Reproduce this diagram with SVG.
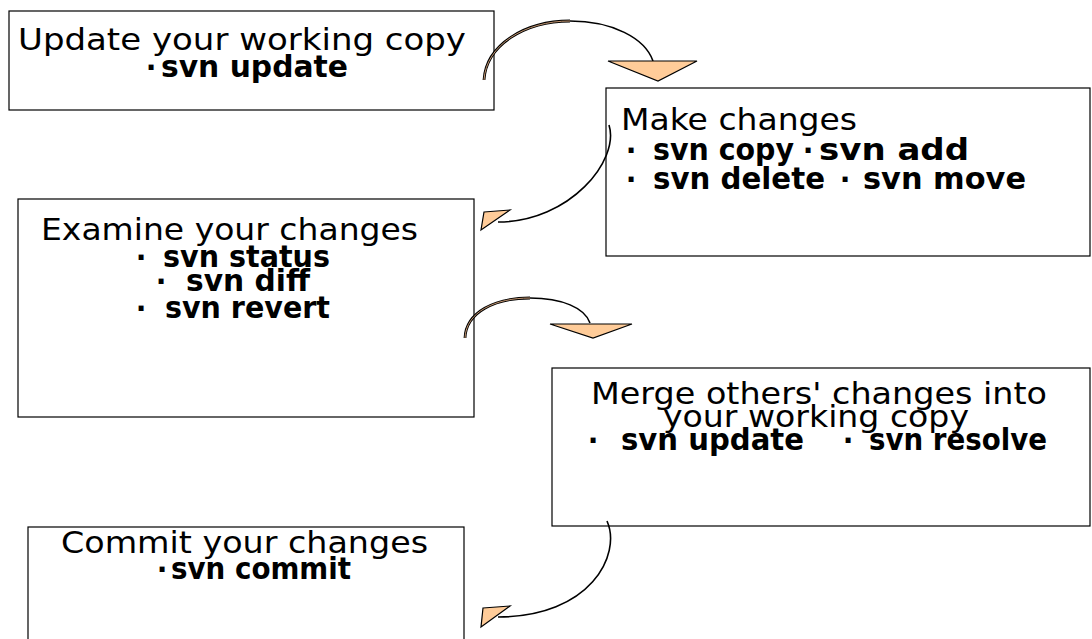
<svg xmlns="http://www.w3.org/2000/svg" width="1092" height="639" viewBox="0 0 1092 639">
<style>
.box{fill:#fff;stroke:#000;stroke-width:1.2}
.t{font-family:"DejaVu Sans","Liberation Sans",sans-serif;font-size:31px;fill:#000}
.b{font-weight:bold}
.d{font-family:"DejaVu Sans","Liberation Sans",sans-serif;font-size:28px;font-weight:bold;fill:#000;text-anchor:middle}
.arc{fill:none;stroke:#000;stroke-width:1.6}
.arcw{fill:none;stroke:#000;stroke-width:2.8}
.arcp{fill:none;stroke:#D9A77E;stroke-width:0.9}
.head{fill:#FFCC99;stroke:#000;stroke-width:1.2;stroke-linejoin:miter}
</style>
<rect width="1092" height="639" fill="#fff"/>
<g id="node-update">
<rect class="box" x="9" y="11" width="485" height="99"/>
<text class="t" x="18" y="50" textLength="448" lengthAdjust="spacingAndGlyphs">Update your working copy</text>
<text class="d" x="151" y="77">·</text>
<text class="t b" x="161" y="77" textLength="187" lengthAdjust="spacingAndGlyphs">svn update</text>
</g>
<g id="node-make">
<rect class="box" x="606" y="88" width="484" height="168"/>
<text class="t" x="621" y="130" textLength="236" lengthAdjust="spacingAndGlyphs">Make changes</text>
<text class="d" x="631" y="160">·</text>
<text class="t b" x="653" y="160" textLength="141" lengthAdjust="spacingAndGlyphs">svn copy</text>
<text class="d" x="808" y="160">·</text>
<text class="t b" x="819" y="160" textLength="150" lengthAdjust="spacingAndGlyphs">svn add</text>
<text class="d" x="631" y="189">·</text>
<text class="t b" x="653" y="189" textLength="172" lengthAdjust="spacingAndGlyphs">svn delete</text>
<text class="d" x="845" y="189">·</text>
<text class="t b" x="863" y="189" textLength="163" lengthAdjust="spacingAndGlyphs">svn move</text>
</g>
<g id="node-examine">
<rect class="box" x="18" y="199" width="456" height="218"/>
<text class="t" x="41" y="240" textLength="377" lengthAdjust="spacingAndGlyphs">Examine your changes</text>
<text class="d" x="141" y="267">·</text>
<text class="t b" x="163" y="267" textLength="167" lengthAdjust="spacingAndGlyphs">svn status</text>
<text class="d" x="161" y="291">·</text>
<text class="t b" x="186" y="291" textLength="124" lengthAdjust="spacingAndGlyphs">svn diff</text>
<text class="d" x="141" y="318">·</text>
<text class="t b" x="165" y="318" textLength="165" lengthAdjust="spacingAndGlyphs">svn revert</text>
</g>
<g id="node-merge">
<rect class="box" x="552" y="368" width="538" height="158"/>
<text class="t" x="591" y="404" textLength="456" lengthAdjust="spacingAndGlyphs">Merge others' changes into</text>
<text class="t" x="663" y="427" textLength="306" lengthAdjust="spacingAndGlyphs">your working copy</text>
<text class="d" x="593" y="450">·</text>
<text class="t b" x="621" y="450" textLength="183" lengthAdjust="spacingAndGlyphs">svn update</text>
<text class="d" x="848" y="450">·</text>
<text class="t b" x="869" y="450" textLength="178" lengthAdjust="spacingAndGlyphs">svn resolve</text>
</g>
<g id="node-commit">
<rect class="box" x="28" y="527" width="436" height="120"/>
<text class="t" x="61" y="553" textLength="367" lengthAdjust="spacingAndGlyphs">Commit your changes</text>
<text class="d" x="162" y="579">·</text>
<text class="t b" x="171" y="579" textLength="180" lengthAdjust="spacingAndGlyphs">svn commit</text>
</g>
<g id="connectors">
<path class="arcw" d="M484,80 C486,45 525,21 570,21"/>
<path class="arcp" d="M484,80 C486,45 525,21 570,21"/>
<path class="arc" d="M570,21 C612,21 645,38 653,61"/>
<polygon class="head" points="608,61 697,61 658,81"/>
<path class="arc" d="M609,125 C620,160 570,222 498,222"/>
<polygon class="head" points="484,212 510,210 481,230"/>
<path class="arcw" d="M465,338 C466,312 495,298 530,298"/>
<path class="arcp" d="M465,338 C466,312 495,298 530,298"/>
<path class="arc" d="M530,298 C562,298 585,308 590,323"/>
<polygon class="head" points="550,324 632,324 593,338"/>
<path class="arc" d="M607,521 C622,555 590,617 498,617"/>
<polygon class="head" points="483,608 510,606 481,627"/>
</g>
</svg>
